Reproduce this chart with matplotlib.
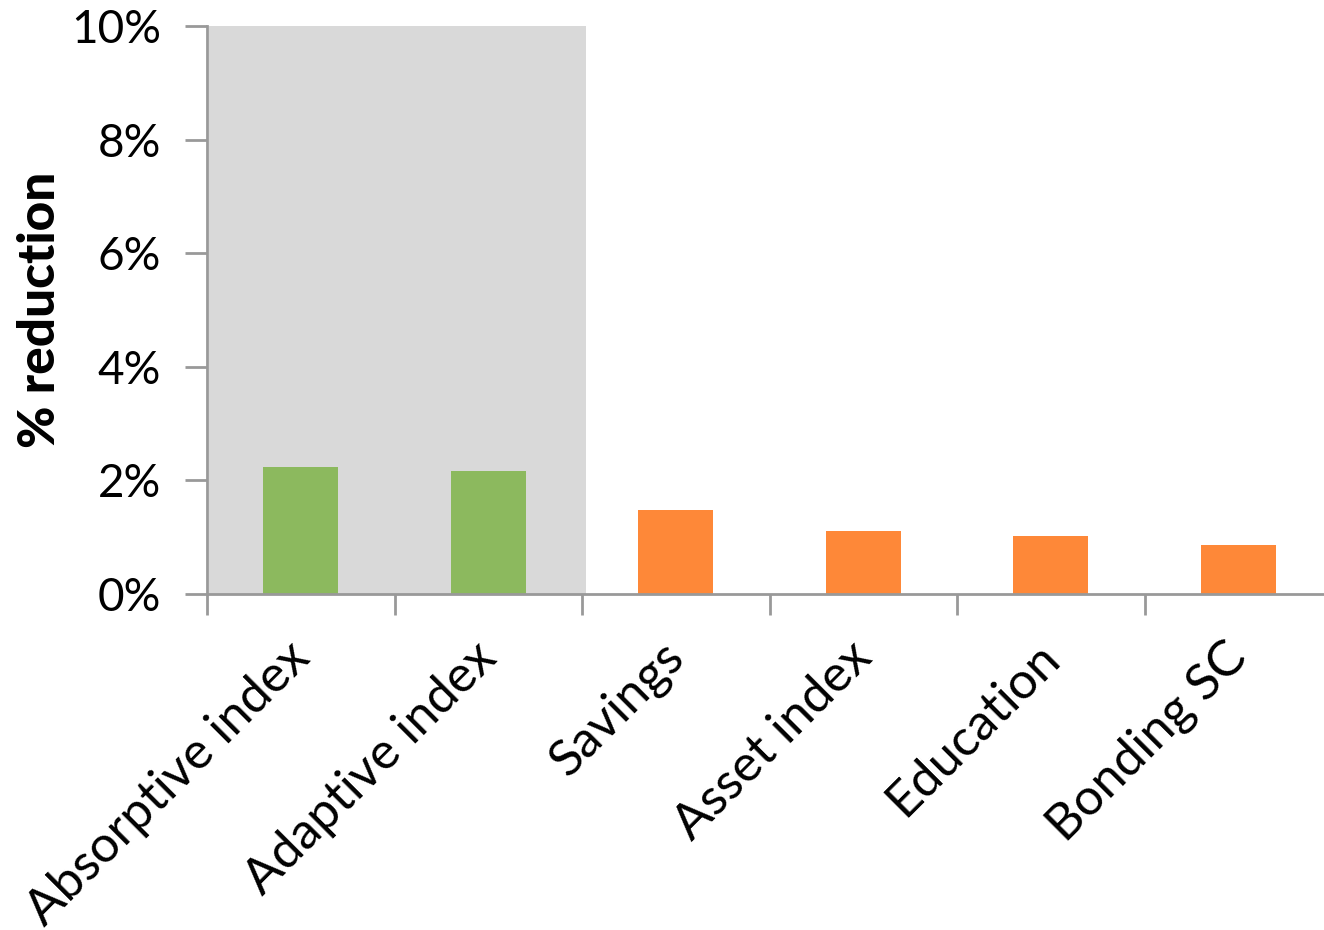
import matplotlib
matplotlib.use("Agg")
import matplotlib.pyplot as plt
import matplotlib.transforms as mtransforms
from matplotlib.ticker import FuncFormatter

# values
categories = ["Absorptive index", "Adaptive index", "Savings",
              "Asset index", "Education", "Bonding SC"]
reduction = [0.0224, 0.0217, 0.0148, 0.0111, 0.0102, 0.0086]
bar_colors = ["#8cb95e", "#8cb95e", "#fe8838", "#fe8838", "#fe8838", "#fe8838"]
yticks = [0, 0.02, 0.04, 0.06, 0.08, 0.10]

plt.rcParams["font.family"] = ["Lato", "DejaVu Sans"]
axis_gray = "#999999"

fig = plt.figure(figsize=(13.24, 9.30), dpi=100)
# axes runs past the right edge of the figure, like the original
ax = fig.add_axes([207 / 1324, 1 - 594 / 930, 1125 / 1324, 568 / 930])

x = list(range(len(categories)))
ax.axvspan(-0.49, 1.52, ymin=0, ymax=1.003, color="#d9d9d9", zorder=0, lw=0)
ax.bar(x, reduction, width=0.4, color=bar_colors, zorder=2)

ax.set_xlim(-0.5, len(categories) - 0.5)
ax.set_ylim(0, 0.10)
ax.set_yticks(yticks)
ax.yaxis.set_major_formatter(FuncFormatter(lambda v, _: f"{v * 100:.0f}%"))

# tick marks sit between categories, labels are placed by hand (rotated)
ax.set_xticks([i - 0.5 for i in range(len(categories) + 1)])
ax.set_xticklabels([])
offset = mtransforms.ScaledTranslation(1 / 100, -56 / 100, fig.dpi_scale_trans)
for i, name in zip(x, categories):
    ax.text(i, 0, name, transform=ax.get_xaxis_transform() + offset,
            rotation=45, ha="right", va="center", rotation_mode="anchor",
            fontsize=36.5)

ax.tick_params(axis="x", which="major", length=15, width=2, color=axis_gray)
ax.tick_params(axis="y", length=16, width=2, color=axis_gray, labelsize=33, pad=17)

for side in ["top", "right"]:
    ax.spines[side].set_visible(False)
for side in ["left", "bottom"]:
    ax.spines[side].set_color(axis_gray)
    ax.spines[side].set_linewidth(2)
ax.set_facecolor("none")

ax.set_ylabel("% reduction", fontsize=37, fontweight="black")
ax.yaxis.set_label_coords(-0.127, 0.5)

fig.savefig("out.png", dpi=100)
